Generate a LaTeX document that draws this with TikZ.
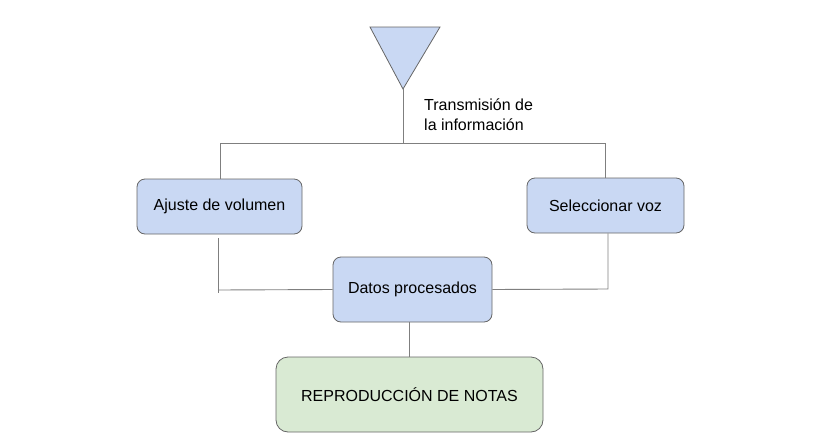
\documentclass[tikz,border=0pt]{standalone}
\usepackage{fontspec}
\setmainfont{Liberation Sans}
\definecolor{boxblue}{HTML}{C9D8F3}
\definecolor{boxgreen}{HTML}{D9EAD3}
\definecolor{edgegray}{HTML}{666666}
\definecolor{linegray}{HTML}{7F7F7F}
\tikzset{
  box/.style={draw=edgegray, line width=0.8pt, rounded corners=8pt, fill=boxblue,
    inner sep=0pt, align=center, font=\fontsize{16}{19}\selectfont},
  greenbox/.style={box, fill=boxgreen, rounded corners=12pt},
  wire/.style={draw=linegray, line width=0.9pt},
  lbl/.style={font=\fontsize{16}{20}\selectfont, align=left, inner sep=0pt, anchor=north west}
}
\begin{document}
\begin{tikzpicture}[x=1pt,y=-1pt]
\useasboundingbox (0,0) rectangle (815,445);
% antenna
\draw[draw=edgegray, line width=0.8pt, fill=boxblue, line join=miter] (370,27) -- (440,27) -- (403,89) -- cycle;
\coordinate (apex) at (403,89);
\coordinate (J) at (403,143);
\coordinate (JL) at (220,143);
\coordinate (JR) at (605,143);
\node[lbl] (tx) at (424,99) {Transmisión de\\la información};

\node[box, minimum width=165pt, minimum height=55pt] (aj) at (219.5,206.5) {Ajuste de volumen};
\node[box, minimum width=157pt, minimum height=55pt] (sel) at (605.5,205.5) {Seleccionar voz};
\node[box, minimum width=159pt, minimum height=65pt] (dat) at (412.5,289.5) {Datos procesados};
\node[greenbox, minimum width=267pt, minimum height=75pt] (rep) at (409.5,394.5) {REPRODUCCIÓN DE NOTAS};

\coordinate (ajb) at (218,238);
\coordinate (ajc) at (218,293);
\coordinate (ajh) at (218,290);
\coordinate (selc) at (608,289);

\draw[wire] (apex) -- (J);
\draw[wire] (aj.north -| JL) -- (JL) -- (JR) -- (sel.north -| JR);
\draw[wire] (ajb) -- (ajc);
\draw[wire] (ajh) -- (dat.west);
\draw[wire] (dat.east) -- (selc) -- (sel.south -| selc);
\draw[wire] (dat.south -| rep.north) -- (rep.north);
\end{tikzpicture}
\end{document}
